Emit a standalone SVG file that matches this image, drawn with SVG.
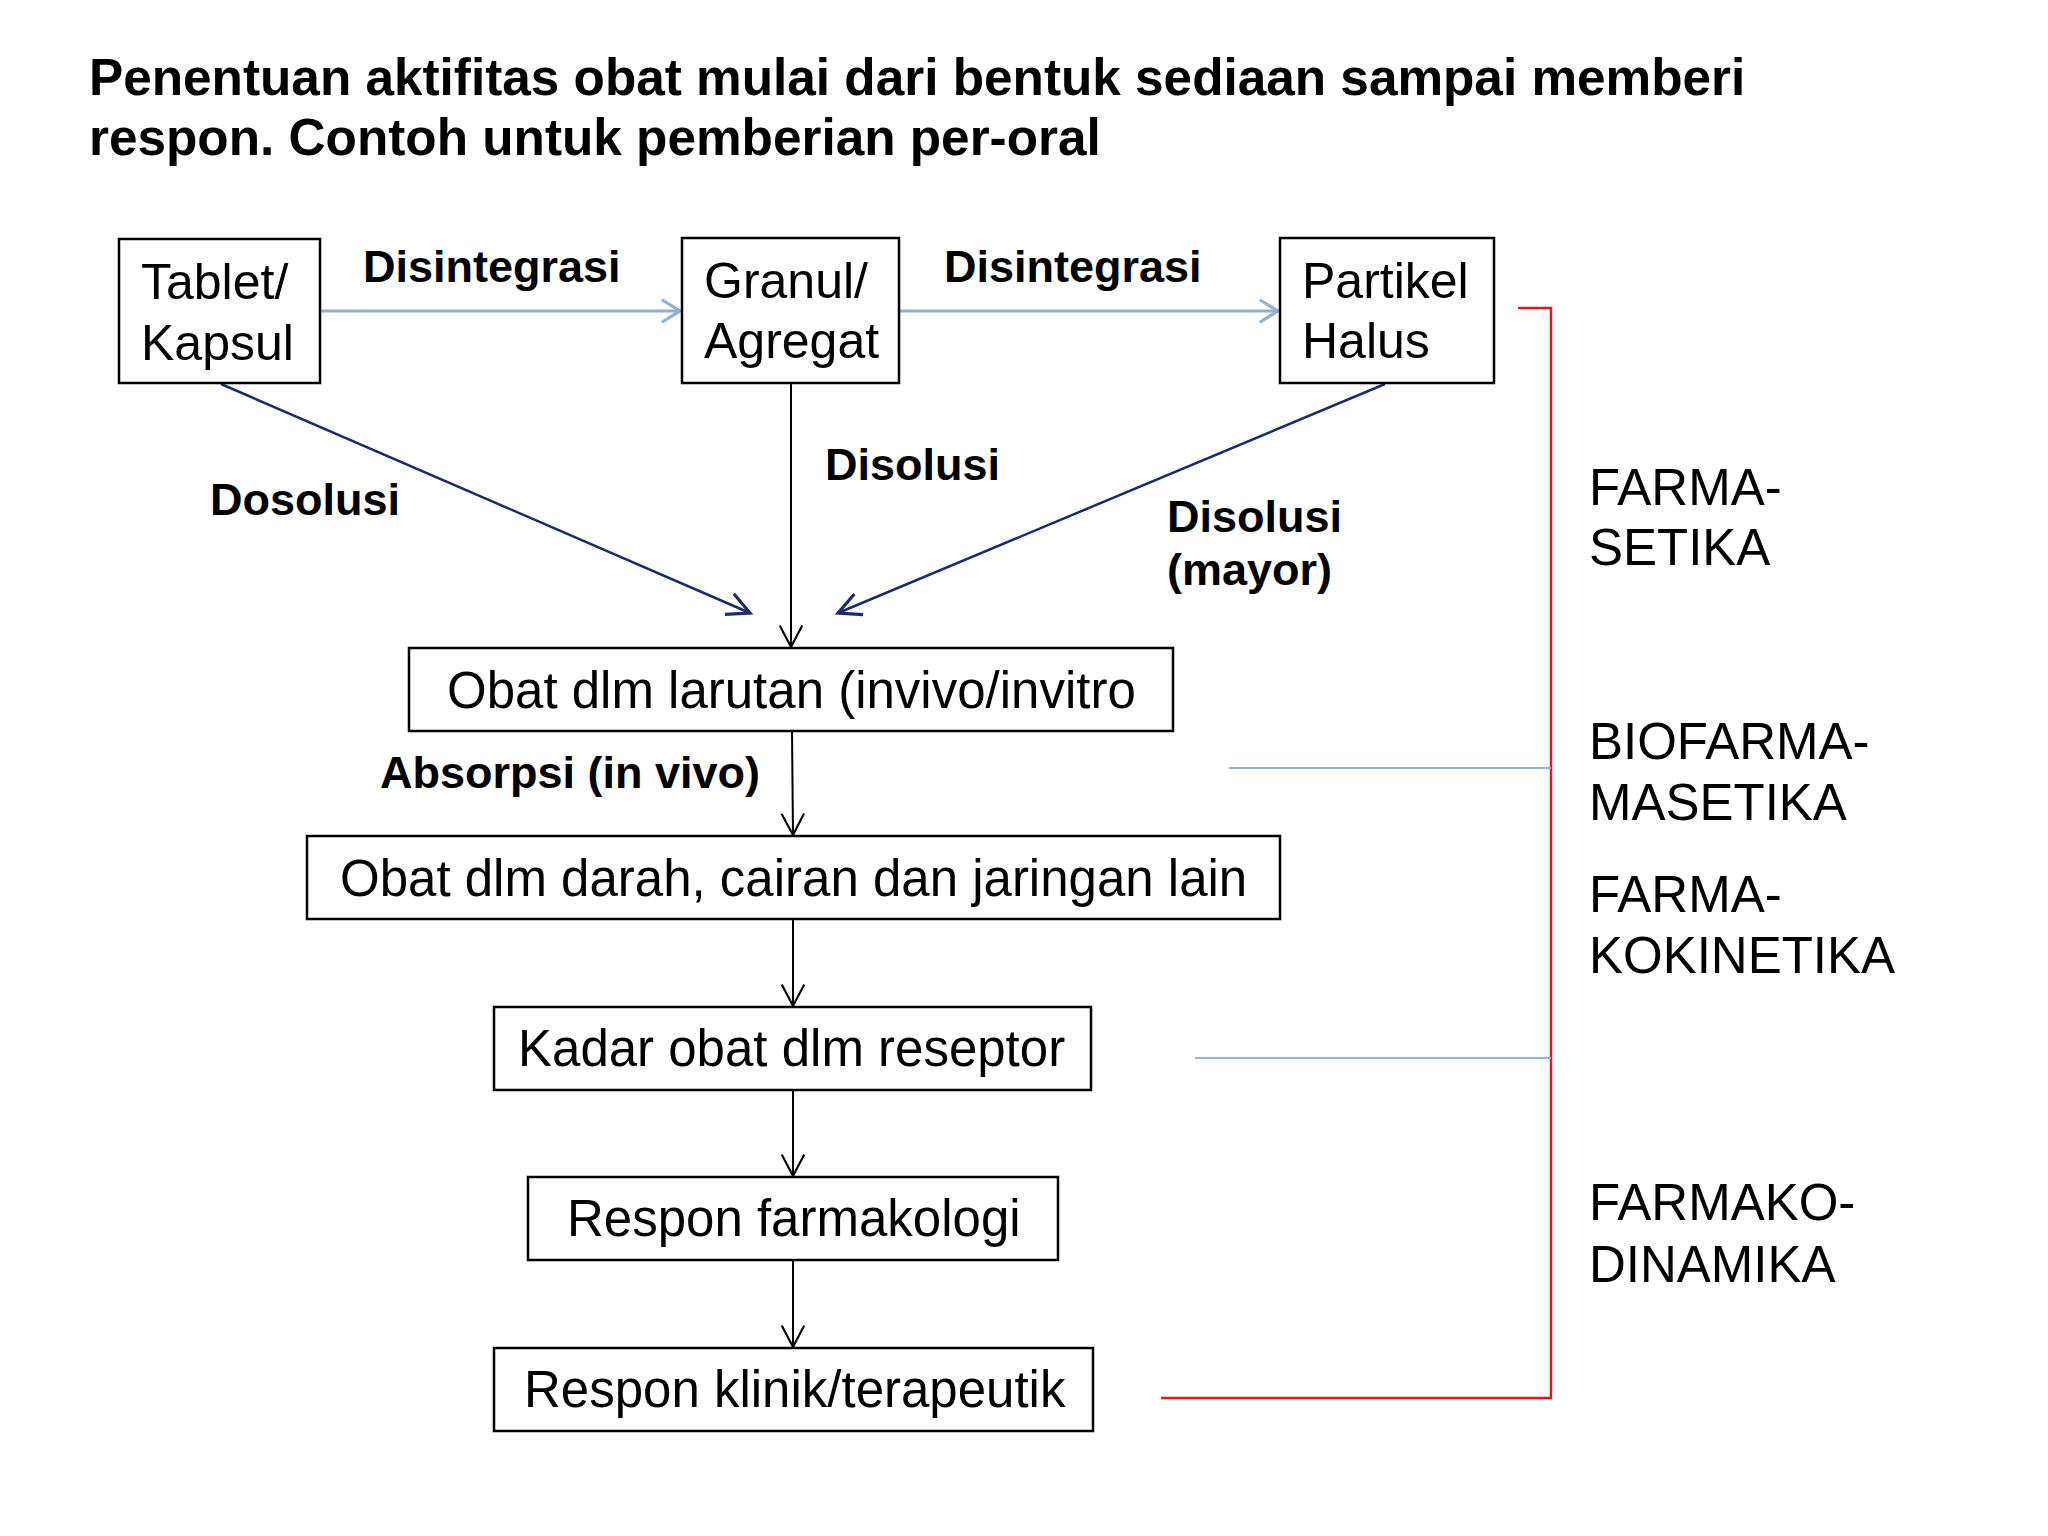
<svg xmlns="http://www.w3.org/2000/svg" width="2048" height="1536" viewBox="0 0 2048 1536">
<style>
.box{fill:#fff;stroke:#000;stroke-width:2.5}
.nt{font-family:"Liberation Sans",Arial,sans-serif;font-size:51px;fill:#000}
.nt2{font-family:"Liberation Sans",Arial,sans-serif;font-size:50px;fill:#000}
.lb{font-family:"Liberation Sans",Arial,sans-serif;font-size:45px;font-weight:bold;fill:#000}
.title{font-family:"Liberation Sans",Arial,sans-serif;font-size:51.3px;font-weight:bold;fill:#000}
.side{font-family:"Liberation Sans",Arial,sans-serif;font-size:51px;fill:#000}
.lblue{stroke:#8fb0d2;stroke-width:3;fill:none}
.navy{stroke:#1b2a6b;stroke-width:2.5;fill:none}
.blk{stroke:#000;stroke-width:2;fill:none}
.red{stroke:#e0191f;stroke-width:2.5;fill:none}
.sblue{stroke:#95b3d7;stroke-width:2;fill:none}
</style>
<defs>
<marker id="mBlue" markerUnits="userSpaceOnUse" markerWidth="30" markerHeight="30" viewBox="-22 -14 26 28" refX="0" refY="0" orient="auto"><path d="M-17,-10.5 L0,0 L-17,10.5" fill="none" stroke="#8fb0d2" stroke-width="3"/></marker>
<marker id="mNavy" markerUnits="userSpaceOnUse" markerWidth="30" markerHeight="30" viewBox="-24 -14 28 28" refX="0" refY="0" orient="auto"><path d="M-21,-10.5 L0,0 L-21,10.5" fill="none" stroke="#1b2a6b" stroke-width="3"/></marker>
<marker id="mBlk" markerUnits="userSpaceOnUse" markerWidth="30" markerHeight="30" viewBox="-24 -14 28 28" refX="0" refY="0" orient="auto"><path d="M-20,-10.5 L0,0 L-20,10.5" fill="none" stroke="#000" stroke-width="2"/></marker>
</defs>
<rect width="2048" height="1536" fill="#fff"/>
<g id="title">
<text class="title" x="89" y="95">Penentuan aktifitas obat mulai dari bentuk sediaan sampai memberi</text>
<text class="title" x="89" y="155">respon. Contoh untuk pemberian per-oral</text>
</g>
<g id="connectors">
<line class="lblue" x1="320" y1="311" x2="680" y2="311" marker-end="url(#mBlue)"/>
<line class="lblue" x1="899" y1="311" x2="1278" y2="311" marker-end="url(#mBlue)"/>
<line class="navy" x1="221" y1="384" x2="750" y2="613" marker-end="url(#mNavy)"/>
<line class="navy" x1="1385" y1="384" x2="838" y2="613" marker-end="url(#mNavy)"/>
<line class="blk" x1="791" y1="383" x2="791" y2="647" marker-end="url(#mBlk)"/>
<line class="blk" x1="792" y1="731" x2="793" y2="835" marker-end="url(#mBlk)"/>
<line class="blk" x1="793" y1="919" x2="793" y2="1006" marker-end="url(#mBlk)"/>
<line class="blk" x1="793" y1="1090" x2="793" y2="1176" marker-end="url(#mBlk)"/>
<line class="blk" x1="793" y1="1260" x2="793" y2="1347" marker-end="url(#mBlk)"/>
<polyline class="red" points="1518,308 1551,308 1551,1398 1161,1398"/>
<line class="sblue" x1="1229" y1="768" x2="1551" y2="768"/>
<line class="sblue" x1="1195" y1="1058" x2="1551" y2="1058"/>
</g>
<g id="edge-labels">
<text class="lb" x="363" y="282">Disintegrasi</text>
<text class="lb" x="944" y="282">Disintegrasi</text>
<text class="lb" x="210" y="515">Dosolusi</text>
<text class="lb" x="825" y="480">Disolusi</text>
<text class="lb" x="1167" y="532">Disolusi</text>
<text class="lb" x="1167" y="585">(mayor)</text>
<text class="lb" x="380" y="788">Absorpsi (in vivo)</text>
</g>
<g id="node-tablet">
<rect class="box" x="119" y="239" width="201" height="144"/>
<text class="nt2" x="141" y="299">Tablet/</text>
<text class="nt2" x="141" y="360">Kapsul</text>
</g>
<g id="node-granul">
<rect class="box" x="682" y="238" width="217" height="145"/>
<text class="nt2" x="704" y="298">Granul/</text>
<text class="nt2" x="704" y="358">Agregat</text>
</g>
<g id="node-partikel">
<rect class="box" x="1280" y="238" width="214" height="145"/>
<text class="nt2" x="1302" y="298">Partikel</text>
<text class="nt2" x="1302" y="358">Halus</text>
</g>
<g id="node-larutan">
<rect class="box" x="409" y="648" width="764" height="83"/>
<text class="nt" x="447" y="708">Obat dlm larutan (invivo/invitro</text>
</g>
<g id="node-darah">
<rect class="box" x="307" y="836" width="973" height="83"/>
<text class="nt" x="340" y="896">Obat dlm darah, cairan dan jaringan lain</text>
</g>
<g id="node-kadar">
<rect class="box" x="494" y="1007" width="597" height="83"/>
<text class="nt" x="518" y="1066">Kadar obat dlm reseptor</text>
</g>
<g id="node-farmakologi">
<rect class="box" x="528" y="1177" width="530" height="83"/>
<text class="nt" x="567" y="1236">Respon farmakologi</text>
</g>
<g id="node-klinik">
<rect class="box" x="494" y="1348" width="599" height="83"/>
<text class="nt" x="524" y="1407">Respon klinik/terapeutik</text>
</g>
<g id="side-labels">
<text class="side" x="1589" y="505">FARMA-</text>
<text class="side" x="1589" y="565">SETIKA</text>
<text class="side" x="1589" y="759">BIOFARMA-</text>
<text class="side" x="1589" y="820">MASETIKA</text>
<text class="side" x="1589" y="912">FARMA-</text>
<text class="side" x="1589" y="973">KOKINETIKA</text>
<text class="side" x="1589" y="1220">FARMAKO-</text>
<text class="side" x="1589" y="1282">DINAMIKA</text>
</g>
</svg>
